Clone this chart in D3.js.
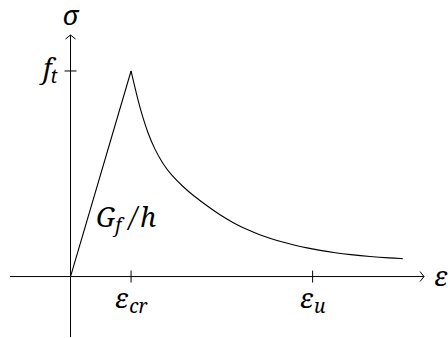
<!DOCTYPE html>
<html>
<head>
<meta charset="utf-8">
<script src="https://cdn.jsdelivr.net/npm/d3@7"></script>
<style>
  html, body { margin: 0; padding: 0; background: #fff; }
  svg { display: block; }
</style>
</head>
<body>
<svg id="chart" width="448" height="338"></svg>
<script>
// Softening curve: strain (in units of the cracking strain) vs stress (in units of f_t)
const strain = [0, 1, 1.115, 1.197, 1.280, 1.391, 1.528, 1.665, 1.858, 2.028, 2.250, 2.470, 2.689, 2.910, 3.130, 3.267, 3.489, 3.708, 3.928, 4.149, 4.369, 4.617, 4.948, 5.278, 5.488];
const stress = [0, 1, 0.856, 0.771, 0.696, 0.619, 0.547, 0.494, 0.437, 0.394, 0.345, 0.299, 0.261, 0.229, 0.203, 0.189, 0.169, 0.152, 0.138, 0.126, 0.116, 0.107, 0.097, 0.090, 0.087];

// Marked strains on the horizontal axis and the marked stress on the vertical axis
const xTickValues = [1, 4];
const xTickLabels = [["ε", "cr"], ["ε", "u"]];
const yTickValues = [1];
const yTickLabels = [["f", "t"]];

const FONT = "Noto Serif";
const SIZE = 27;
const SUB = 19;

const svg = d3.select("#chart");

const x = d3.scaleLinear().domain([-1, 5.84]).range([10, 424]);
const y = d3.scaleLinear().domain([-0.294, 1.175]).range([337, 35]);

const x0 = x(0), y0 = y(0);
const [xMin, xMax] = x.domain();
const [yMin, yMax] = y.domain();

// Axes with open arrow heads
const axes = svg.append("g").attr("stroke", "#000").attr("stroke-width", 1).attr("fill", "none");
axes.append("line").attr("x1", x(xMin)).attr("x2", x(xMax)).attr("y1", y0).attr("y2", y0);
axes.append("line").attr("x1", x0).attr("x2", x0).attr("y1", y(yMin)).attr("y2", y(yMax));
axes.append("path")
  .attr("d", `M${x(xMax) - 4},${y0 - 5} L${x(xMax)},${y0} L${x(xMax) - 4},${y0 + 5}`);
axes.append("path")
  .attr("d", `M${x0 - 5},${y(yMax) + 4} L${x0},${y(yMax)} L${x0 + 5},${y(yMax) + 4}`);

// Tick marks crossing the axes
axes.selectAll(".xt").data(xTickValues).join("line")
  .attr("x1", d => x(d)).attr("x2", d => x(d))
  .attr("y1", y0 - 6).attr("y2", y0 + 6);
axes.selectAll(".yt").data(yTickValues).join("line")
  .attr("x1", x0 - 6).attr("x2", x0 + 6)
  .attr("y1", d => y(d)).attr("y2", d => y(d));

// Stress-strain curve: linear rise, then smooth softening branch
const pts = strain.map((s, i) => [s, stress[i]]);
svg.append("path")
  .datum(pts.slice(0, 2))
  .attr("fill", "none").attr("stroke", "#000").attr("stroke-width", 1.1)
  .attr("d", d3.line().x(d => x(d[0])).y(d => y(d[1])));
svg.append("path")
  .datum(pts.slice(1))
  .attr("fill", "none").attr("stroke", "#000").attr("stroke-width", 1.1)
  .attr("d", d3.line().x(d => x(d[0])).y(d => y(d[1])).curve(d3.curveBasis));

// Italic label made of pieces; each piece may be a subscript and carry extra spacing
function mathLabel(g, parts, px, py, anchor) {
  const t = g.append("text")
    .attr("x", px).attr("y", py)
    .attr("text-anchor", anchor)
    .attr("font-family", FONT)
    .attr("font-style", "italic")
    .attr("font-size", SIZE)
    .attr("fill", "#000");
  let shift = 0;
  parts.forEach(([str, isSub, gap]) => {
    const want = isSub ? 5 : 0;
    t.append("tspan")
      .attr("font-size", isSub ? SUB : SIZE)
      .attr("dy", want - shift)
      .attr("dx", gap || 0)
      .text(str);
    shift = want;
  });
  return t;
}

const labels = svg.append("g");
xTickValues.forEach((v, i) => {
  mathLabel(labels, [[xTickLabels[i][0], false], [xTickLabels[i][1], true, 1]], x(v), y0 + 31, "middle");
});
yTickValues.forEach((v, i) => {
  mathLabel(labels, [[yTickLabels[i][0], false], [yTickLabels[i][1], true, -1]], x0 - 13, y(v) + 7, "end");
});

// Axis names
mathLabel(labels, [["σ", false]], x0, 25, "middle");
mathLabel(labels, [["ε", false]], 434, y0 + 9, "start");

// Fracture energy over crack band width
mathLabel(labels, [["G", false], ["f", true, 0], ["/", false, 8], ["h", false, 3]], 96, 227, "start");
</script>
</body>
</html>
